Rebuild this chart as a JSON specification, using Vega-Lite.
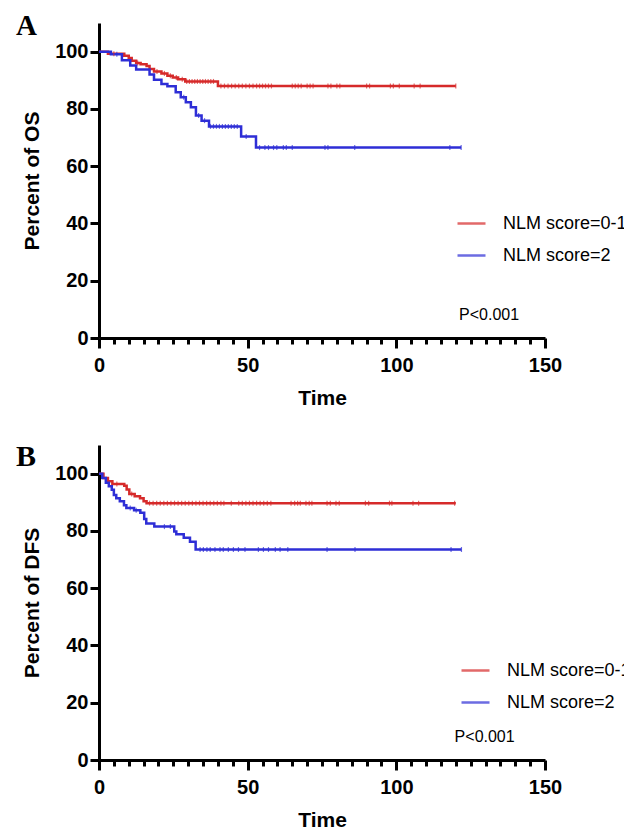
{
  "$schema": "https://vega.github.io/schema/vega-lite/v6.json",
  "padding": {"left": 16, "top": 12, "right": 0, "bottom": 0},
  "spacing": 34,
  "columns": 1,
  "align": "none",
  "config": {
    "view": {"stroke": null},
    "font": "Liberation Sans",
    "axis": {
      "grid": false,
      "domainColor": "black",
      "domainWidth": 3,
      "tickColor": "black",
      "tickWidth": 3,
      "labelFont": "Liberation Sans",
      "labelFontWeight": "bold",
      "labelFontSize": 20,
      "labelColor": "black",
      "titleFont": "Liberation Sans",
      "titleFontWeight": "bold",
      "titleFontSize": 21,
      "titleColor": "black"
    },
    "axisX": {"labelPadding": 7, "titlePadding": 12, "labelFlush": false, "tickSize": 10},
    "axisY": {"labelPadding": 2, "titlePadding": 12, "tickSize": 9},
    "legend": {
      "orient": "none",
      "title": null,
      "symbolType": "stroke",
      "symbolSize": 784,
      "symbolStrokeWidth": 2.5,
      "labelFont": "Liberation Sans",
      "labelFontSize": 18,
      "labelColor": "black",
      "labelOffset": 16,
      "rowPadding": 7,
      "padding": 0,
      "labelLimit": 400
    }
  },
  "datasets": {
    "os": [
      {"time": 0, "pct": 100, "group": "NLM score=0-1"},
      {"time": 3, "pct": 99.3, "group": "NLM score=0-1"},
      {"time": 8.5, "pct": 98.6, "group": "NLM score=0-1"},
      {"time": 10, "pct": 97.8, "group": "NLM score=0-1"},
      {"time": 11, "pct": 96.8, "group": "NLM score=0-1"},
      {"time": 12.5, "pct": 96, "group": "NLM score=0-1"},
      {"time": 14, "pct": 95.6, "group": "NLM score=0-1"},
      {"time": 16, "pct": 95, "group": "NLM score=0-1"},
      {"time": 17, "pct": 93.9, "group": "NLM score=0-1"},
      {"time": 18.5, "pct": 93.1, "group": "NLM score=0-1"},
      {"time": 21, "pct": 92.4, "group": "NLM score=0-1"},
      {"time": 23, "pct": 91.6, "group": "NLM score=0-1"},
      {"time": 24.8, "pct": 91, "group": "NLM score=0-1"},
      {"time": 26.6, "pct": 90.4, "group": "NLM score=0-1"},
      {"time": 29, "pct": 89.6, "group": "NLM score=0-1"},
      {"time": 40, "pct": 88, "group": "NLM score=0-1"},
      {"time": 120, "pct": 88, "group": "NLM score=0-1"},
      {"time": 0, "pct": 100, "group": "NLM score=2"},
      {"time": 4, "pct": 99.1, "group": "NLM score=2"},
      {"time": 7.7, "pct": 97, "group": "NLM score=2"},
      {"time": 10.5, "pct": 95.2, "group": "NLM score=2"},
      {"time": 12.5, "pct": 93.8, "group": "NLM score=2"},
      {"time": 17, "pct": 92, "group": "NLM score=2"},
      {"time": 18.5, "pct": 90.2, "group": "NLM score=2"},
      {"time": 21, "pct": 88.7, "group": "NLM score=2"},
      {"time": 23, "pct": 87.9, "group": "NLM score=2"},
      {"time": 25.8, "pct": 85.8, "group": "NLM score=2"},
      {"time": 27.5, "pct": 84.1, "group": "NLM score=2"},
      {"time": 29.2, "pct": 82.3, "group": "NLM score=2"},
      {"time": 30.9, "pct": 80.6, "group": "NLM score=2"},
      {"time": 32.6, "pct": 77.7, "group": "NLM score=2"},
      {"time": 34.5, "pct": 75.9, "group": "NLM score=2"},
      {"time": 37, "pct": 73.9, "group": "NLM score=2"},
      {"time": 47.8, "pct": 70.4, "group": "NLM score=2"},
      {"time": 52.8, "pct": 66.5, "group": "NLM score=2"},
      {"time": 121.8, "pct": 66.5, "group": "NLM score=2"}
    ],
    "os_c": [
      {"time": 5, "pct": 99.3, "group": "NLM score=0-1"},
      {"time": 13, "pct": 96, "group": "NLM score=0-1"},
      {"time": 19.5, "pct": 93.1, "group": "NLM score=0-1"},
      {"time": 22, "pct": 92.4, "group": "NLM score=0-1"},
      {"time": 24, "pct": 91.6, "group": "NLM score=0-1"},
      {"time": 26, "pct": 91, "group": "NLM score=0-1"},
      {"time": 28, "pct": 90.4, "group": "NLM score=0-1"},
      {"time": 29.5, "pct": 89.6, "group": "NLM score=0-1"},
      {"time": 30.4, "pct": 89.6, "group": "NLM score=0-1"},
      {"time": 31.3, "pct": 89.6, "group": "NLM score=0-1"},
      {"time": 32.2, "pct": 89.6, "group": "NLM score=0-1"},
      {"time": 33.1, "pct": 89.6, "group": "NLM score=0-1"},
      {"time": 34, "pct": 89.6, "group": "NLM score=0-1"},
      {"time": 34.9, "pct": 89.6, "group": "NLM score=0-1"},
      {"time": 35.8, "pct": 89.6, "group": "NLM score=0-1"},
      {"time": 36.7, "pct": 89.6, "group": "NLM score=0-1"},
      {"time": 37.6, "pct": 89.6, "group": "NLM score=0-1"},
      {"time": 38.5, "pct": 89.6, "group": "NLM score=0-1"},
      {"time": 41, "pct": 88, "group": "NLM score=0-1"},
      {"time": 42.2, "pct": 88, "group": "NLM score=0-1"},
      {"time": 43.4, "pct": 88, "group": "NLM score=0-1"},
      {"time": 44.6, "pct": 88, "group": "NLM score=0-1"},
      {"time": 45.8, "pct": 88, "group": "NLM score=0-1"},
      {"time": 47, "pct": 88, "group": "NLM score=0-1"},
      {"time": 48.2, "pct": 88, "group": "NLM score=0-1"},
      {"time": 49.4, "pct": 88, "group": "NLM score=0-1"},
      {"time": 50.6, "pct": 88, "group": "NLM score=0-1"},
      {"time": 51.8, "pct": 88, "group": "NLM score=0-1"},
      {"time": 53, "pct": 88, "group": "NLM score=0-1"},
      {"time": 54, "pct": 88, "group": "NLM score=0-1"},
      {"time": 55, "pct": 88, "group": "NLM score=0-1"},
      {"time": 56, "pct": 88, "group": "NLM score=0-1"},
      {"time": 57, "pct": 88, "group": "NLM score=0-1"},
      {"time": 58, "pct": 88, "group": "NLM score=0-1"},
      {"time": 65, "pct": 88, "group": "NLM score=0-1"},
      {"time": 66, "pct": 88, "group": "NLM score=0-1"},
      {"time": 67, "pct": 88, "group": "NLM score=0-1"},
      {"time": 68, "pct": 88, "group": "NLM score=0-1"},
      {"time": 70, "pct": 88, "group": "NLM score=0-1"},
      {"time": 71, "pct": 88, "group": "NLM score=0-1"},
      {"time": 72, "pct": 88, "group": "NLM score=0-1"},
      {"time": 77, "pct": 88, "group": "NLM score=0-1"},
      {"time": 78, "pct": 88, "group": "NLM score=0-1"},
      {"time": 80, "pct": 88, "group": "NLM score=0-1"},
      {"time": 81, "pct": 88, "group": "NLM score=0-1"},
      {"time": 90, "pct": 88, "group": "NLM score=0-1"},
      {"time": 91, "pct": 88, "group": "NLM score=0-1"},
      {"time": 98, "pct": 88, "group": "NLM score=0-1"},
      {"time": 99, "pct": 88, "group": "NLM score=0-1"},
      {"time": 101, "pct": 88, "group": "NLM score=0-1"},
      {"time": 106, "pct": 88, "group": "NLM score=0-1"},
      {"time": 108, "pct": 88, "group": "NLM score=0-1"},
      {"time": 120, "pct": 88, "group": "NLM score=0-1"},
      {"time": 6, "pct": 99.1, "group": "NLM score=2"},
      {"time": 28.5, "pct": 84.1, "group": "NLM score=2"},
      {"time": 33.5, "pct": 77.7, "group": "NLM score=2"},
      {"time": 35.5, "pct": 75.9, "group": "NLM score=2"},
      {"time": 37.5, "pct": 73.9, "group": "NLM score=2"},
      {"time": 38.5, "pct": 73.9, "group": "NLM score=2"},
      {"time": 39.5, "pct": 73.9, "group": "NLM score=2"},
      {"time": 40.5, "pct": 73.9, "group": "NLM score=2"},
      {"time": 41.5, "pct": 73.9, "group": "NLM score=2"},
      {"time": 42.5, "pct": 73.9, "group": "NLM score=2"},
      {"time": 43.5, "pct": 73.9, "group": "NLM score=2"},
      {"time": 44.5, "pct": 73.9, "group": "NLM score=2"},
      {"time": 45.5, "pct": 73.9, "group": "NLM score=2"},
      {"time": 46.5, "pct": 73.9, "group": "NLM score=2"},
      {"time": 49.5, "pct": 70.4, "group": "NLM score=2"},
      {"time": 54, "pct": 66.5, "group": "NLM score=2"},
      {"time": 55.8, "pct": 66.5, "group": "NLM score=2"},
      {"time": 57, "pct": 66.5, "group": "NLM score=2"},
      {"time": 58.7, "pct": 66.5, "group": "NLM score=2"},
      {"time": 59.8, "pct": 66.5, "group": "NLM score=2"},
      {"time": 62, "pct": 66.5, "group": "NLM score=2"},
      {"time": 63, "pct": 66.5, "group": "NLM score=2"},
      {"time": 65, "pct": 66.5, "group": "NLM score=2"},
      {"time": 76, "pct": 66.5, "group": "NLM score=2"},
      {"time": 77, "pct": 66.5, "group": "NLM score=2"},
      {"time": 86, "pct": 66.5, "group": "NLM score=2"},
      {"time": 118, "pct": 66.5, "group": "NLM score=2"},
      {"time": 121.8, "pct": 66.5, "group": "NLM score=2"}
    ],
    "dfs": [
      {"time": 0, "pct": 100, "group": "NLM score=0-1"},
      {"time": 1.5, "pct": 98.5, "group": "NLM score=0-1"},
      {"time": 3, "pct": 97.3, "group": "NLM score=0-1"},
      {"time": 4.5, "pct": 96.4, "group": "NLM score=0-1"},
      {"time": 8.5, "pct": 95.8, "group": "NLM score=0-1"},
      {"time": 9.3, "pct": 94.5, "group": "NLM score=0-1"},
      {"time": 10.2, "pct": 92.9, "group": "NLM score=0-1"},
      {"time": 12, "pct": 92.1, "group": "NLM score=0-1"},
      {"time": 13.8, "pct": 91.4, "group": "NLM score=0-1"},
      {"time": 15, "pct": 90.4, "group": "NLM score=0-1"},
      {"time": 16, "pct": 89.7, "group": "NLM score=0-1"},
      {"time": 120, "pct": 89.7, "group": "NLM score=0-1"},
      {"time": 0, "pct": 100, "group": "NLM score=2"},
      {"time": 1.1, "pct": 98.5, "group": "NLM score=2"},
      {"time": 2.3, "pct": 96.8, "group": "NLM score=2"},
      {"time": 3.3, "pct": 95.6, "group": "NLM score=2"},
      {"time": 4.3, "pct": 94.4, "group": "NLM score=2"},
      {"time": 5, "pct": 92.5, "group": "NLM score=2"},
      {"time": 5.8, "pct": 91.4, "group": "NLM score=2"},
      {"time": 7, "pct": 90.4, "group": "NLM score=2"},
      {"time": 8.4, "pct": 89, "group": "NLM score=2"},
      {"time": 9.2, "pct": 88, "group": "NLM score=2"},
      {"time": 11.8, "pct": 87.2, "group": "NLM score=2"},
      {"time": 13.9, "pct": 86.3, "group": "NLM score=2"},
      {"time": 15.2, "pct": 84.2, "group": "NLM score=2"},
      {"time": 15.9, "pct": 82.6, "group": "NLM score=2"},
      {"time": 18.6, "pct": 81.5, "group": "NLM score=2"},
      {"time": 25.3, "pct": 79.8, "group": "NLM score=2"},
      {"time": 26, "pct": 78.8, "group": "NLM score=2"},
      {"time": 28.5, "pct": 77.6, "group": "NLM score=2"},
      {"time": 30.6, "pct": 76.2, "group": "NLM score=2"},
      {"time": 32.5, "pct": 73.5, "group": "NLM score=2"},
      {"time": 121.9, "pct": 73.5, "group": "NLM score=2"}
    ],
    "dfs_c": [
      {"time": 6, "pct": 96.4, "group": "NLM score=0-1"},
      {"time": 11, "pct": 92.9, "group": "NLM score=0-1"},
      {"time": 17, "pct": 89.7, "group": "NLM score=0-1"},
      {"time": 18.2, "pct": 89.7, "group": "NLM score=0-1"},
      {"time": 19.4, "pct": 89.7, "group": "NLM score=0-1"},
      {"time": 20.6, "pct": 89.7, "group": "NLM score=0-1"},
      {"time": 21.8, "pct": 89.7, "group": "NLM score=0-1"},
      {"time": 23, "pct": 89.7, "group": "NLM score=0-1"},
      {"time": 24.2, "pct": 89.7, "group": "NLM score=0-1"},
      {"time": 25.4, "pct": 89.7, "group": "NLM score=0-1"},
      {"time": 26.6, "pct": 89.7, "group": "NLM score=0-1"},
      {"time": 27.8, "pct": 89.7, "group": "NLM score=0-1"},
      {"time": 29, "pct": 89.7, "group": "NLM score=0-1"},
      {"time": 30.2, "pct": 89.7, "group": "NLM score=0-1"},
      {"time": 31.4, "pct": 89.7, "group": "NLM score=0-1"},
      {"time": 32.6, "pct": 89.7, "group": "NLM score=0-1"},
      {"time": 33.8, "pct": 89.7, "group": "NLM score=0-1"},
      {"time": 35, "pct": 89.7, "group": "NLM score=0-1"},
      {"time": 36.2, "pct": 89.7, "group": "NLM score=0-1"},
      {"time": 37.4, "pct": 89.7, "group": "NLM score=0-1"},
      {"time": 38.6, "pct": 89.7, "group": "NLM score=0-1"},
      {"time": 39.8, "pct": 89.7, "group": "NLM score=0-1"},
      {"time": 41, "pct": 89.7, "group": "NLM score=0-1"},
      {"time": 42, "pct": 89.7, "group": "NLM score=0-1"},
      {"time": 44.5, "pct": 89.7, "group": "NLM score=0-1"},
      {"time": 47, "pct": 89.7, "group": "NLM score=0-1"},
      {"time": 48.2, "pct": 89.7, "group": "NLM score=0-1"},
      {"time": 49.4, "pct": 89.7, "group": "NLM score=0-1"},
      {"time": 50.6, "pct": 89.7, "group": "NLM score=0-1"},
      {"time": 51.8, "pct": 89.7, "group": "NLM score=0-1"},
      {"time": 53, "pct": 89.7, "group": "NLM score=0-1"},
      {"time": 54.2, "pct": 89.7, "group": "NLM score=0-1"},
      {"time": 55.4, "pct": 89.7, "group": "NLM score=0-1"},
      {"time": 56.6, "pct": 89.7, "group": "NLM score=0-1"},
      {"time": 57.8, "pct": 89.7, "group": "NLM score=0-1"},
      {"time": 64.6, "pct": 89.7, "group": "NLM score=0-1"},
      {"time": 65.8, "pct": 89.7, "group": "NLM score=0-1"},
      {"time": 66.8, "pct": 89.7, "group": "NLM score=0-1"},
      {"time": 67.7, "pct": 89.7, "group": "NLM score=0-1"},
      {"time": 69.6, "pct": 89.7, "group": "NLM score=0-1"},
      {"time": 70.7, "pct": 89.7, "group": "NLM score=0-1"},
      {"time": 71.6, "pct": 89.7, "group": "NLM score=0-1"},
      {"time": 76.7, "pct": 89.7, "group": "NLM score=0-1"},
      {"time": 77.8, "pct": 89.7, "group": "NLM score=0-1"},
      {"time": 79.7, "pct": 89.7, "group": "NLM score=0-1"},
      {"time": 80.8, "pct": 89.7, "group": "NLM score=0-1"},
      {"time": 89.6, "pct": 89.7, "group": "NLM score=0-1"},
      {"time": 90.7, "pct": 89.7, "group": "NLM score=0-1"},
      {"time": 97.7, "pct": 89.7, "group": "NLM score=0-1"},
      {"time": 98.5, "pct": 89.7, "group": "NLM score=0-1"},
      {"time": 105.6, "pct": 89.7, "group": "NLM score=0-1"},
      {"time": 107.5, "pct": 89.7, "group": "NLM score=0-1"},
      {"time": 119.6, "pct": 89.7, "group": "NLM score=0-1"},
      {"time": 10.5, "pct": 88, "group": "NLM score=2"},
      {"time": 12.5, "pct": 87.2, "group": "NLM score=2"},
      {"time": 22, "pct": 81.5, "group": "NLM score=2"},
      {"time": 24, "pct": 81.5, "group": "NLM score=2"},
      {"time": 34, "pct": 73.5, "group": "NLM score=2"},
      {"time": 35.1, "pct": 73.5, "group": "NLM score=2"},
      {"time": 36.3, "pct": 73.5, "group": "NLM score=2"},
      {"time": 37.4, "pct": 73.5, "group": "NLM score=2"},
      {"time": 39, "pct": 73.5, "group": "NLM score=2"},
      {"time": 40.7, "pct": 73.5, "group": "NLM score=2"},
      {"time": 41.8, "pct": 73.5, "group": "NLM score=2"},
      {"time": 43.5, "pct": 73.5, "group": "NLM score=2"},
      {"time": 45.2, "pct": 73.5, "group": "NLM score=2"},
      {"time": 46.9, "pct": 73.5, "group": "NLM score=2"},
      {"time": 49.1, "pct": 73.5, "group": "NLM score=2"},
      {"time": 53.6, "pct": 73.5, "group": "NLM score=2"},
      {"time": 55.3, "pct": 73.5, "group": "NLM score=2"},
      {"time": 57, "pct": 73.5, "group": "NLM score=2"},
      {"time": 59.3, "pct": 73.5, "group": "NLM score=2"},
      {"time": 60.9, "pct": 73.5, "group": "NLM score=2"},
      {"time": 63.5, "pct": 73.5, "group": "NLM score=2"},
      {"time": 76.7, "pct": 73.5, "group": "NLM score=2"},
      {"time": 86.1, "pct": 73.5, "group": "NLM score=2"},
      {"time": 118.4, "pct": 73.5, "group": "NLM score=2"},
      {"time": 121.9, "pct": 73.5, "group": "NLM score=2"}
    ]
  },
  "concat": [
    {
      "width": 446,
      "height": 315,
      "layer": [
        {
          "data": {"name": "os"},
          "mark": {"type": "line", "interpolate": "step-after", "strokeWidth": 2.5},
          "encoding": {
            "x": {"field": "time", "type": "quantitative", "scale": {"domain": [0, 150], "nice": false},
              "axis": {"title": "Time", "values": [0, 50, 100, 150], "orient": "bottom"}},
            "y": {"field": "pct", "type": "quantitative", "scale": {"domain": [0, 110], "nice": false},
              "axis": {"title": "Percent of OS", "values": [0, 20, 40, 60, 80, 100]}},
            "color": {"field": "group", "type": "nominal",
              "scale": {"domain": ["NLM score=0-1", "NLM score=2"], "range": ["#d62a2a", "#2e2ed6"]},
              "legend": {"legendX": 357, "legendY": 185}}
          }
        },
        {
          "data": {"name": "os_c"},
          "mark": {"type": "tick", "orient": "vertical", "size": 5, "thickness": 1.2},
          "encoding": {
            "x": {"field": "time", "type": "quantitative",
              "axis": {"orient": "bottom", "values": [5,10,15,20,25,30,35,40,45,55,60,65,70,75,80,85,90,95,105,110,115,120,125,130,135,140,145], "tickSize": 6, "labels": false, "domain": false, "title": null}},
            "y": {"field": "pct", "type": "quantitative"},
            "color": {"field": "group", "type": "nominal"}
          }
        },
        {
          "data": {"values": [{}]},
          "mark": {"type": "text", "align": "left", "baseline": "middle", "fontSize": 16, "font": "Liberation Sans", "color": "black"},
          "encoding": {
            "x": {"datum": 121.1, "type": "quantitative", "axis": null},
            "y": {"datum": 8.2, "type": "quantitative"},
            "text": {"value": "P<0.001"}
          }
        },
        {
          "data": {"values": [{}]},
          "mark": {"type": "text", "align": "left", "baseline": "alphabetic", "fontSize": 29, "font": "Liberation Serif", "fontWeight": "bold", "color": "black"},
          "encoding": {
            "x": {"datum": -27.9, "type": "quantitative", "axis": null},
            "y": {"datum": 105.8, "type": "quantitative"},
            "text": {"value": "A"}
          }
        }
      ],
      "resolve": {"axis": {"x": "independent"}}
    },
    {
      "width": 446,
      "height": 315,
      "layer": [
        {
          "data": {"name": "dfs"},
          "mark": {"type": "line", "interpolate": "step-after", "strokeWidth": 2.5},
          "encoding": {
            "x": {"field": "time", "type": "quantitative", "scale": {"domain": [0, 150], "nice": false},
              "axis": {"title": "Time", "values": [0, 50, 100, 150], "orient": "bottom"}},
            "y": {"field": "pct", "type": "quantitative", "scale": {"domain": [0, 110], "nice": false},
              "axis": {"title": "Percent of DFS", "values": [0, 20, 40, 60, 80, 100]}},
            "color": {"field": "group", "type": "nominal",
              "scale": {"domain": ["NLM score=0-1", "NLM score=2"], "range": ["#d62a2a", "#2e2ed6"]},
              "legend": {"legendX": 361, "legendY": 210}}
          }
        },
        {
          "data": {"name": "dfs_c"},
          "mark": {"type": "tick", "orient": "vertical", "size": 5, "thickness": 1.2},
          "encoding": {
            "x": {"field": "time", "type": "quantitative",
              "axis": {"orient": "bottom", "values": [5,10,15,20,25,30,35,40,45,55,60,65,70,75,80,85,90,95,105,110,115,120,125,130,135,140,145], "tickSize": 6, "labels": false, "domain": false, "title": null}},
            "y": {"field": "pct", "type": "quantitative"},
            "color": {"field": "group", "type": "nominal"}
          }
        },
        {
          "data": {"values": [{}]},
          "mark": {"type": "text", "align": "left", "baseline": "middle", "fontSize": 16, "font": "Liberation Sans", "color": "black"},
          "encoding": {
            "x": {"datum": 119.6, "type": "quantitative", "axis": null},
            "y": {"datum": 8.2, "type": "quantitative"},
            "text": {"value": "P<0.001"}
          }
        },
        {
          "data": {"values": [{}]},
          "mark": {"type": "text", "align": "left", "baseline": "alphabetic", "fontSize": 30, "font": "Liberation Serif", "fontWeight": "bold", "color": "black"},
          "encoding": {
            "x": {"datum": -27.9, "type": "quantitative", "axis": null},
            "y": {"datum": 102.5, "type": "quantitative"},
            "text": {"value": "B"}
          }
        }
      ],
      "resolve": {"axis": {"x": "independent"}}
    }
  ],
  "resolve": {"scale": {"color": "independent"}}
}
